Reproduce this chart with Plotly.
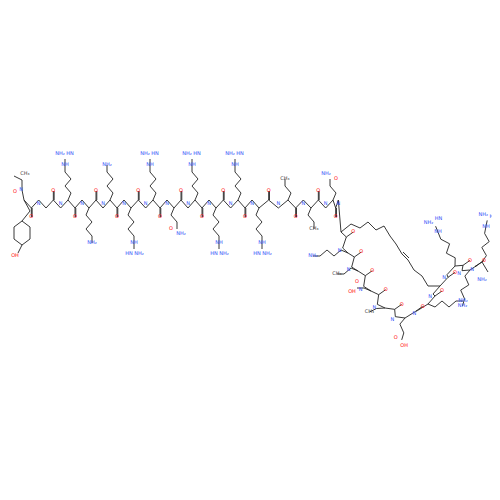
import plotly.graph_objects as go

# residue sequence of the top row (left to right) and side chain direction
row_residues = ["Tyr", "Gly", "Arg", "Lys", "Lys", "Arg", "Arg", "Gln", "Arg", "Arg", "Arg", "Arg", "Leu", "Ile", "Gln"]
row_ca_x = [16, 38, 60, 81, 102, 123, 145, 166, 187, 208, 230, 251, 280, 303, 325]
# second part of the chain (going down and right), alpha carbon positions
tail_residues = ["X", "Lys", "Ile", "Asp", "Val", "Glu", "Lys", "X", "Arg", "Lys", "Arg"]
tail_ca = [(333, 224), (340, 245), (350, 263), (363, 283), (377, 300), (397, 310),
           (420, 296), (432, 278), (447, 258), (462, 262), (474, 254)]
tail_dir = [(0, 0), (-1, 0), (-1, 0), (-1, 0), (-1, 0.5), (-0.3, 1), (1, 0), (0, 0),
            (-0.4, -1), (-0.3, 1), (0.2, -1)]
chain_len = {"Arg": 4, "Lys": 4, "Gln": 2, "Leu": 2, "Ile": 2, "Val": 1, "Asp": 1, "Glu": 2, "Tyr": 1, "Gly": 0, "X": 0}
tips = {"Arg": "guan", "Lys": "NH₂", "Gln": "amide", "Leu": "CH₃", "Ile": "CH₃", "Val": "CH₃", "Asp": "acid", "Glu": "acid"}
staple = [(333, 224), (343, 216), (352, 220), (360, 214), (368, 222), (376, 218), (382, 228),
          (388, 236), (394, 246), (400, 252), (406, 262), (414, 268), (420, 278), (432, 278)]
tyr_ring = [(16, 192), (22, 203), (14, 213), (22, 219), (22, 231), (14, 237), (6, 231), (6, 219), (14, 213)]

N_COL, O_COL = "#3050F8", "#FF0D0D"
bx, by = [], []
lx, ly, lt, lc = [], [], [], []


def bond(p, q):
    bx.extend([p[0], q[0], None])
    by.extend([p[1], q[1], None])


def label(p, t, c):
    lx.append(p[0]); ly.append(p[1]); lt.append(t); lc.append(c)


def side_chain(ca, d, res):
    n = chain_len[res]
    if n == 0:
        return
    px, py = -d[1], d[0]
    pts = [ca]
    for k in range(1, n + 1):
        s = 3 if k % 2 else -3
        pts.append((ca[0] + d[0] * 7 * k + px * s, ca[1] + d[1] * 7 * k + py * s))
    for a, b in zip(pts, pts[1:]):
        bond(a, b)
    end = pts[-1]
    tip = tips.get(res)
    nxt = (end[0] + d[0] * 7, end[1] + d[1] * 7)
    if tip == "guan":
        bond(end, nxt)
        label(nxt, "NH", N_COL)
        c = (nxt[0] + d[0] * 6, nxt[1] + d[1] * 6)
        bond(nxt, c)
        label((c[0] + d[0] * 5 - px * 5, c[1] + d[1] * 5 - py * 5), "NH₂", N_COL)
        label((c[0] + d[0] * 5 + px * 5, c[1] + d[1] * 5 + py * 5), "HN", N_COL)
    elif tip in ("amide", "acid"):
        bond(end, nxt)
        label((nxt[0] + d[0] * 5 - px * 4, nxt[1] + d[1] * 5 - py * 4), "NH₂" if tip == "amide" else "OH",
              N_COL if tip == "amide" else O_COL)
        label((nxt[0] + px * 6, nxt[1] + py * 6), "O", O_COL)
    elif tip:
        bond(end, nxt)
        label(nxt, tip, N_COL if tip == "NH₂" else "#444")


# top row backbone
prev = None
for i, (res, x) in enumerate(zip(row_residues, row_ca_x)):
    up = i % 2 == 0
    ca = (x, 192 if up else 200)
    if prev:
        bond(prev, ca)
    nxt_x = row_ca_x[i + 1] if i + 1 < len(row_ca_x) else tail_ca[0][0]
    c = ((2 * x + nxt_x) / 3, 200 if up else 192)
    n = ((x + 2 * nxt_x) / 3, 192 if up else 200)
    bond(ca, c); bond(c, n)
    o = (c[0], c[1] + (9 if up else -9))
    bx.extend([c[0] + 0.8, o[0] + 0.8, None]); by.extend([c[1], o[1], None])
    bond(c, o)
    label(o, "O", O_COL)
    label((n[0], n[1] + (4 if up else -4)), "N", N_COL)
    prev = n
    if res == "Tyr":
        for a, b in zip(tyr_ring, tyr_ring[1:]):
            bond(a, b)
        bond((14, 237), (10, 245)); label((7, 248), "OH", O_COL)
        bond((16, 192), (14, 182)); label((13, 182), "N", N_COL)
        bond((14, 182), (14, 172)); bond((14, 172), (6, 168)); label((7, 184), "O", O_COL)
        label((17, 166), "CH₃", "#444")
    else:
        side_chain(ca, (0, -1) if up else (0, 1), res)

# tail backbone
for i, (res, ca) in enumerate(zip(tail_residues, tail_ca)):
    if prev:
        bond(prev, ca)
    if i + 1 < len(tail_ca):
        nx, ny = tail_ca[i + 1]
        c = ((2 * ca[0] + nx) / 3 + 3, (2 * ca[1] + ny) / 3 - 2)
        n = ((ca[0] + 2 * nx) / 3 - 3, (ca[1] + 2 * ny) / 3 + 2)
        bond(ca, c); bond(c, n)
        o = (c[0] + 7, c[1] - 5)
        bond(c, o); label(o, "O", O_COL)
        label((n[0] - 3, n[1] + 3), "N", N_COL)
        prev = n
    side_chain(ca, tail_dir[i], res)
# C-terminal amide
bond(tail_ca[-1], (480, 264)); label((474, 272), "NH₂", N_COL); label((488, 264), "O", O_COL)
for a, b in zip(staple, staple[1:]):
    bond(a, b)
bond((395, 244), (401, 250))

fig = go.Figure()
fig.add_trace(go.Scatter(x=bx, y=by, mode="lines", line=dict(color="#222", width=0.9), hoverinfo="skip"))
fig.add_trace(go.Scatter(x=lx, y=ly, mode="text", text=lt, textfont=dict(color=lc, size=5, family="DejaVu Sans"),
                         hoverinfo="skip"))
fig.update_layout(width=500, height=500, margin=dict(l=0, r=0, t=0, b=0), showlegend=False,
                  plot_bgcolor="white", paper_bgcolor="white",
                  xaxis=dict(range=[0, 500], visible=False),
                  yaxis=dict(range=[500, 0], visible=False))
fig.write_html("out.html")
